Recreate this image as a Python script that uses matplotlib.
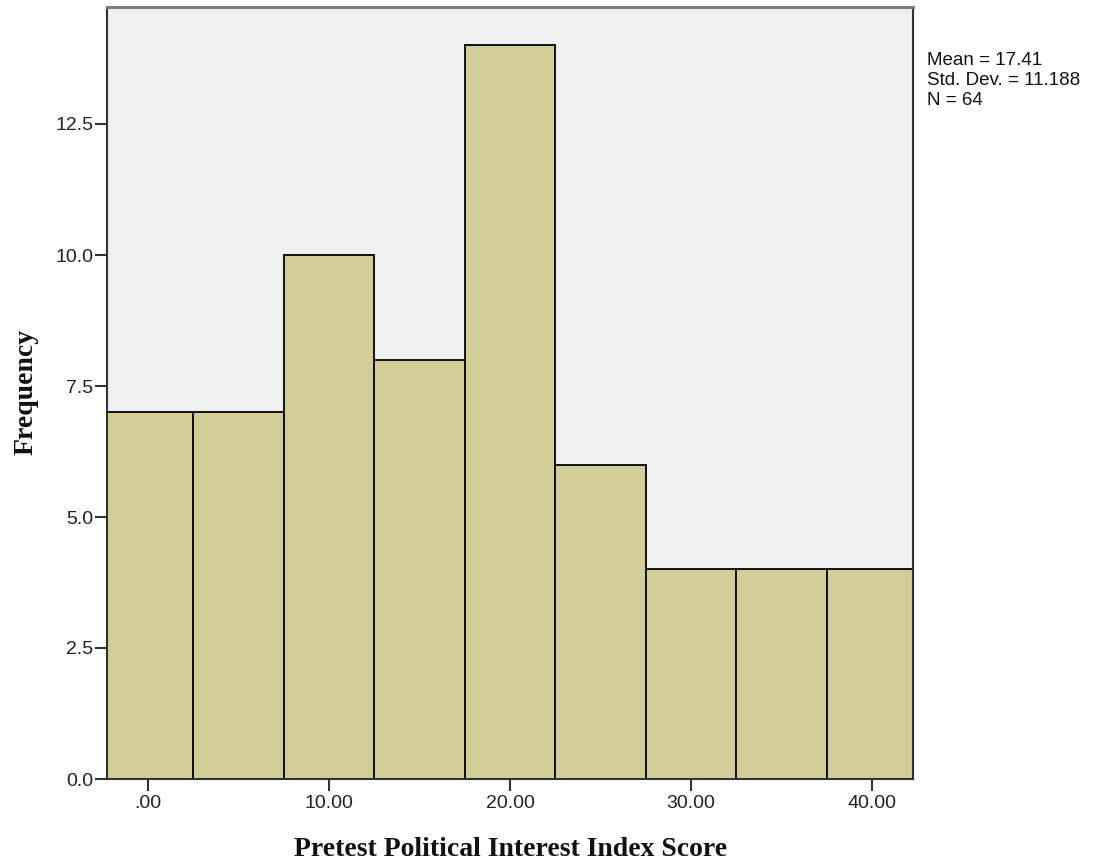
import matplotlib
matplotlib.use("Agg")
import matplotlib.pyplot as plt

bin_centers = [0, 5, 10, 15, 20, 25, 30, 35, 40]
frequencies = [7, 7, 10, 8, 14, 6, 4, 4, 4]
bin_width = 5
x_ticks = [0, 10, 20, 30, 40]
x_tick_labels = [".00", "10.00", "20.00", "30.00", "40.00"]
y_ticks = [0, 2.5, 5.0, 7.5, 10.0, 12.5]
y_tick_labels = ["0.0", "2.5", "5.0", "7.5", "10.0", "12.5"]
stats_lines = ["Mean = 17.41", "Std. Dev. = 11.188", "N = 64"]
x_label = "Pretest Political Interest Index Score"
y_label = "Frequency"

W, H = 1096, 865
TOP = 6.5
fig = plt.figure(figsize=(W / 100, H / 100), dpi=100)
ax = fig.add_axes([107 / W, 1 - 779 / H, (913 - 107) / W, (779 - TOP) / H])
ax.set_facecolor("#F0F0F0")
ax.bar(bin_centers, frequencies, width=bin_width, color="#D3CE97",
       edgecolor="#111111", linewidth=1.4, zorder=2)
ax.set_xlim(-2.25, 42.25)
ax.set_ylim(0, (779 - TOP) / 52.4)
ax.set_xticks(x_ticks)
ax.set_xticklabels(x_tick_labels, fontfamily="Liberation Sans", fontsize=14, color="#222222")
ax.set_yticks(y_ticks)
ax.set_yticklabels(y_tick_labels, fontfamily="Liberation Sans", fontsize=14, color="#222222")
ax.tick_params(axis="both", direction="out", length=8.5, width=1.5, color="#333333")
ax.tick_params(axis="x", pad=3.3)
ax.tick_params(axis="y", pad=1.5)
for name, s in ax.spines.items():
    s.set_linewidth(1.5)
    s.set_color("#333333")
ax.spines["top"].set_color("#808080")
ax.spines["top"].set_linewidth(2.2)

fig.text(511 / W, 1 - 856 / H, x_label, fontfamily="Liberation Serif",
         fontweight="bold", fontsize=20, ha="center", va="baseline", color="#111111")
fig.text(26 / W, 1 - 392 / H, y_label, fontfamily="Liberation Serif",
         fontweight="bold", fontsize=20, ha="center", va="center", rotation=90,
         color="#111111")

for i, line in enumerate(stats_lines):
    fig.text(927 / W, 1 - (65 + 20 * i) / H, line, fontfamily="Liberation Sans",
             fontsize=13.5, va="baseline", ha="left", color="#111111")

fig.savefig("out.png", dpi=100)
